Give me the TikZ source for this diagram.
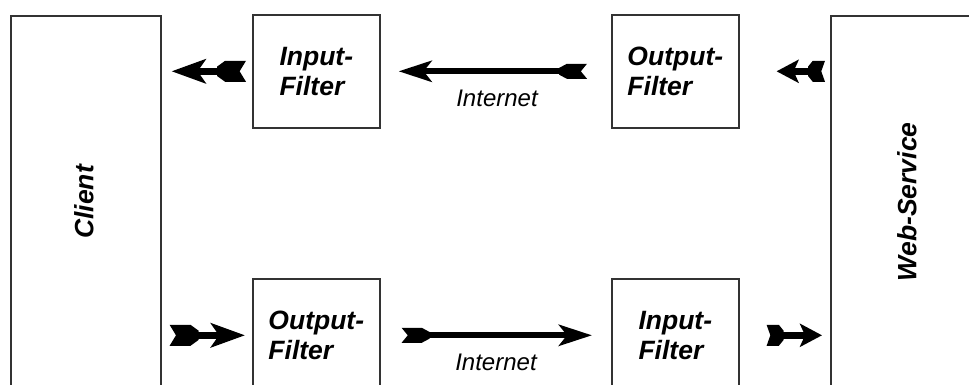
\documentclass[tikz,border=0pt]{standalone}
\usepackage{fontspec}
\setmainfont{Liberation Sans}
\usetikzlibrary{arrows.meta}

% Feathered tail: a wide body with a V notch at its outer end
\pgfdeclarearrow{
  name = Fletch,
  parameters = {\the\pgfarrowlength,\the\pgfarrowwidth},
  setup code = {
    \pgfarrowssettipend{0pt}
    \pgfarrowssetlineend{-0.6\pgfarrowlength}
    \pgfarrowssetbackend{-\pgfarrowlength}
    \pgfarrowssavethe\pgfarrowlength
    \pgfarrowssavethe\pgfarrowwidth
  },
  drawing code = {
    \pgfpathmoveto{\pgfqpoint{0pt}{.5\pgfarrowwidth}}
    \pgfpathlineto{\pgfqpoint{-.22\pgfarrowlength}{0pt}}
    \pgfpathlineto{\pgfqpoint{0pt}{-.5\pgfarrowwidth}}
    \pgfpathlineto{\pgfqpoint{-.72\pgfarrowlength}{-.5\pgfarrowwidth}}
    \pgfpathlineto{\pgfqpoint{-\pgfarrowlength}{-.22\pgfarrowwidth}}
    \pgfpathlineto{\pgfqpoint{-\pgfarrowlength}{.22\pgfarrowwidth}}
    \pgfpathlineto{\pgfqpoint{-.72\pgfarrowlength}{.5\pgfarrowwidth}}
    \pgfpathclose
    \pgfusepathqfill
  },
  defaults = {length = 28pt, width = 14pt}
}

\begin{document}
\begin{tikzpicture}[x=1pt, y=-1pt,
  box/.style={draw=black!80, line width=1.6pt, rectangle, inner sep=0pt, fill=white},
  lbl/.style={font=\fontsize{26.5}{30}\selectfont\bfseries\itshape, align=left, inner sep=0pt},
  net/.style={font=\fontsize{24}{28}\selectfont\itshape, inner sep=0pt},
  filterbox/.style={box, lbl, minimum width=127pt, minimum height=113pt, anchor=north west},
  flow/.style={line width=7.5pt, draw=black,
    {Fletch[length=29pt,width=21pt]}-{Stealth[length=34pt,width=24pt,inset=8pt]}},
  shortflow/.style={line width=7.5pt, draw=black,
    {Fletch[length=17pt,width=21pt]}-{Stealth[length=22pt,width=23pt,inset=5pt]}},
  netflow/.style={line width=6pt, draw=black,
    {Fletch[length=28pt,width=15pt]}-{Stealth[length=33pt,width=21pt,inset=8pt]}},
]
\useasboundingbox (0,0) rectangle (969,385);
\clip (0,0) rectangle (969,385);

% end points
\node[box, minimum width=150pt, minimum height=372pt, anchor=north west] (client) at (10,15) {};
\node[lbl, rotate=90] (clientText) at ([xshift=-2pt]client.center) {Client};
\node[box, minimum width=152pt, minimum height=372pt, anchor=north west] (web) at (830,15) {};
\node[lbl, rotate=90] (webText) at (web.center) {Web-Service};

% filters
\node[filterbox] (inTop) at (252,14) {Input-\\Filter};
\node[filterbox] (outTop) at (611,14) {Output-\\Filter};
\node[filterbox] (outBot) at (252,278) {Output-\\Filter};
\node[filterbox] (inBot) at (611,278) {Input-\\Filter};

% response path (right to left)
\draw[shortflow, shorten <=5pt, shorten >=37pt] (web.west |- outTop.east) -- (outTop.east);
\draw[netflow, shorten <=24pt, shorten >=18pt] (outTop.west) -- (inTop.east);
\draw[flow, shorten <=6pt, shorten >=10pt] (inTop.west) -- (client.east |- inTop.west);
\node[net] (netTop) at (497,98) {Internet};

% request path (left to right)
\draw[flow, shorten <=8pt, shorten >=7pt] (client.east |- outBot.west) -- (outBot.west);
\draw[netflow, shorten <=21pt, shorten >=19pt] (outBot.east) -- (inBot.west);
\draw[shortflow, shorten <=27pt, shorten >=8pt] (inBot.east) -- (web.west |- inBot.east);
\node[net] (netBot) at (496,362) {Internet};
\end{tikzpicture}
\end{document}
